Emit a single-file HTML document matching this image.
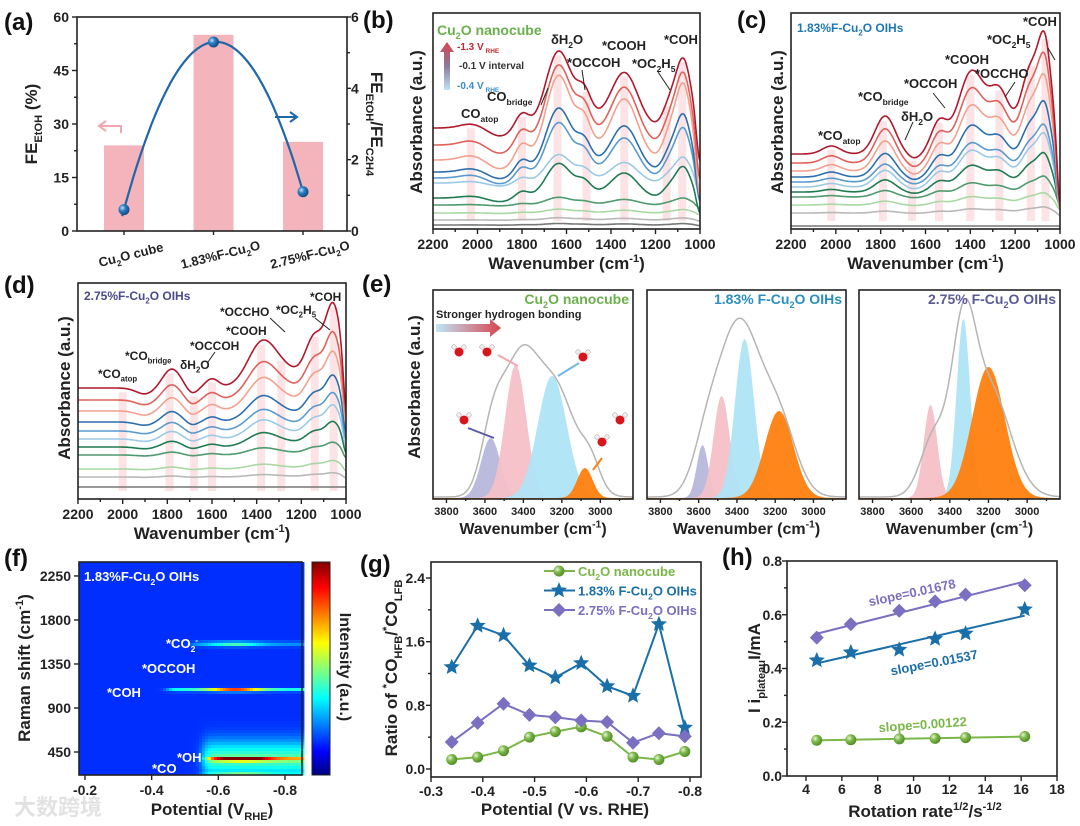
<!DOCTYPE html>
<html><head><meta charset="utf-8"><title>Figure</title>
<style>
html,body{margin:0;padding:0;background:#fff;}
svg{display:block;font-family:"Liberation Sans","Noto Sans CJK SC",sans-serif;font-weight:bold;}
</style></head>
<body>
<svg id="fig" width="1080" height="826" viewBox="0 0 1080 826" xmlns="http://www.w3.org/2000/svg">
<defs>
<linearGradient id="vArrow" x1="0" y1="1" x2="0" y2="0"><stop offset="0" stop-color="#bfe3f7"/><stop offset="0.5" stop-color="#8a7a9a"/><stop offset="1" stop-color="#d9434f"/></linearGradient>
<linearGradient id="hArrow" x1="0" y1="0" x2="1" y2="0"><stop offset="0" stop-color="#bfe6f8"/><stop offset="1" stop-color="#d9434f"/></linearGradient>
<linearGradient id="jetBar" x1="0" y1="1" x2="0" y2="0">
<stop offset="0" stop-color="#00007f"/><stop offset="0.11" stop-color="#0000ff"/><stop offset="0.36" stop-color="#00ffff"/><stop offset="0.62" stop-color="#ffff00"/><stop offset="0.88" stop-color="#ff0000"/><stop offset="1" stop-color="#7f0000"/></linearGradient>
<radialGradient id="ballBlue" cx="0.35" cy="0.35" r="0.7"><stop offset="0" stop-color="#bfe2ff"/><stop offset="0.4" stop-color="#2a7fc4"/><stop offset="1" stop-color="#12477a"/></radialGradient>
<radialGradient id="ballGreen" cx="0.35" cy="0.35" r="0.7"><stop offset="0" stop-color="#e4f5d0"/><stop offset="0.45" stop-color="#7ab648"/><stop offset="1" stop-color="#4f8a25"/></radialGradient>
<clipPath id="clipB"><rect x="433" y="13" width="267" height="216"/></clipPath>
<clipPath id="clipC"><rect x="791" y="13" width="269" height="216"/></clipPath>
<clipPath id="clipD"><rect x="78" y="283" width="268" height="216"/></clipPath>
</defs>
</svg>
<script>
const NS='http://www.w3.org/2000/svg';
const svg=document.getElementById('fig');
function mk(tag,attrs,parent){const e=document.createElementNS(NS,tag);for(const k in attrs)e.setAttribute(k,attrs[k]);(parent||svg).appendChild(e);return e;}
function rich(el,s,fs){const parts=s.split(/(_\{[^}]*\}|\^\{[^}]*\})/);let cur=0;for(const p of parts){if(!p)continue;let t,d=0,small=false;if(p.startsWith('_{')){t=p.slice(2,-1);d=fs*0.3;small=true;}else if(p.startsWith('^{')){t=p.slice(2,-1);d=-fs*0.4;small=true;}else{t=p;}const ts=document.createElementNS(NS,'tspan');ts.setAttribute('dy',(d-cur).toFixed(2));cur=d;if(small)ts.setAttribute('font-size',(fs*0.65).toFixed(1));ts.textContent=t;el.appendChild(ts);}}
function txt(x,y,s,fs,color,anchor,name,rot){const t=mk('text',{x:x,y:y,'font-size':fs,fill:color,'text-anchor':anchor||'start'});if(rot)t.setAttribute('transform','rotate('+rot+' '+x+' '+y+')');rich(t,s,fs);


return t;}
function axisBox(x0,y0,x1,y1,name){const r=mk('rect',{x:x0,y:y0,width:x1-x0,height:y1-y0,fill:'none',stroke:'#222','stroke-width':1.6});

}
function tickLine(x1,y1,x2,y2,name){const l=mk('line',{x1:x1,y1:y1,x2:x2,y2:y2,stroke:'#222','stroke-width':1.4});

}

/* ================= (a) ================= */
const aCats=['Cu_{2}O cube','1.83%F-Cu_{2}O','2.75%F-Cu_{2}O'];
const aFE=[24,55,25];
const aRatio=[0.6,5.3,1.1];
const aLeftTicks=[0,15,30,45,60];
const aRightTicks=[0,2,4,6];
(function(){
 const x0=77,x1=347,y0=17,y1=231;
 const ax=i=>124+i*89.5, yl=v=>y1-v/60*(y1-y0), yr=v=>y1-v/6*(y1-y0);
 aFE.forEach((v,i)=>{const r=mk('rect',{x:ax(i)-20,y:yl(v),width:40,height:y1-yl(v),fill:'#f4b4bc'});
 
 });
 let d='';for(let t=-0.02;t<=2.02;t+=0.02){let v=0;for(let j=0;j<3;j++){let L=1;for(let k=0;k<3;k++)if(k!==j)L*=(t-k)/(j-k);v+=aRatio[j]*L;}d+=(d?'L':'M')+ax(t).toFixed(1)+','+yr(v).toFixed(1);}
 const c=mk('path',{d:d,fill:'none',stroke:'#1f67a8','stroke-width':2.2});
 
 
 aRatio.forEach((v,i)=>{const p=mk('circle',{cx:ax(i),cy:yr(v),r:5.5,fill:'url(#ballBlue)'});
 
 });
 axisBox(x0,y0,x1,y1,'axes-a');
 aLeftTicks.forEach(v=>{tickLine(x0,yl(v),x0-5,yl(v),'a-left-tick');txt(x0-8,yl(v)+5,String(v),14,'#222','end','a-left-tick-label');});
 [7.5,22.5,37.5,52.5].forEach(v=>tickLine(x0,yl(v),x0-3,yl(v),'a-left-minor-tick'));
 aRightTicks.forEach(v=>{tickLine(x1,yr(v),x1+4,yr(v),'a-right-tick');txt(x1+4,yr(v)+5,String(v),14,'#222','start','a-right-tick-label');});
 [1,3,5].forEach(v=>tickLine(x1,yr(v),x1+3,yr(v),'a-right-minor-tick'));
 aCats.forEach((s,i)=>{tickLine(ax(i),y1,ax(i),y1+4,'a-x-tick');txt(ax(i)+8,y1+28,s,13,'#222','middle','a-category-label',-14);});
 txt(37,124,'FE_{EtOH} (%)',17,'#222','middle','a-left-axis-title',-90);
 txt(371,124,'FE_{EtOH}/FE_{C2H4}',17,'#222','middle','a-right-axis-title',90);
 const ar1=mk('path',{d:'M121,133 L121,126 L100,126 M106,121 L99,126 L106,131',fill:'none',stroke:'#f2a6b0','stroke-width':2});
 
 
 const ar2=mk('path',{d:'M275,117 L297,117 M290,112 L297,117 L290,122',fill:'none',stroke:'#1f67a8','stroke-width':2});
 
 
 txt(4,30,'(a)',24,'#111','start','panel-label-a');
})();

/* ============ spectra helper ============ */
function drawSpectra(box,dom,peaks,offs,scales,colors,bands,clip,pfx){
 const X=w=>box.x0+(dom[0]-w)/(dom[0]-dom[1])*(box.x1-box.x0);
 const S=w=>{let s=0;for(const p of peaks)s+=p[1]*Math.exp(-((w-p[0])**2)/(2*p[2]*p[2]));return s;};
 bands.forEach(w=>{const top=box.y1-(offs[0]+scales[0]*S(w))+4;const r=mk('rect',{x:X(w)-4,y:top,width:8,height:box.y1-8-top,fill:'#fbd9dc',opacity:0.75});
 
 });
 for(let i=offs.length-1;i>=0;i--){let d='';for(let w=dom[0];w>=dom[1];w-=4){const v=offs[i]+scales[i]*S(w);d+=(d?'L':'M')+X(w).toFixed(1)+','+(box.y1-v).toFixed(1);}
 const p=mk('path',{d:d,fill:'none',stroke:colors[i],'stroke-width':1.6,'clip-path':'url(#'+clip+')'});
 
 }
 axisBox(box.x0,box.y0,box.x1,box.y1,pfx+'-axes');
 for(let w=dom[0];w>=dom[1];w-=100){const major=(w%200===0);tickLine(X(w),box.y1,X(w),box.y1+(major?5:3),pfx+'-x-tick');if(major)txt(X(w),box.y1+20,String(w),14,'#222','middle',pfx+'-x-tick-label');}
 txt((box.x0+box.x1)/2,box.y1+40,'Wavenumber (cm^{-1})',17,'#222','middle',pfx+'-x-axis-title');
}
const specColors=['#b2182b','#e0605a','#f4a08e','#2c6fae','#5a9acd','#9cc9e6','#1f7a52','#4f9a6e','#a9d8a4','#b8b8b8','#777777'];

/* ================= (b) ================= */
const bPeaks=[[2030,4,50],[1900,-8,50],[1800,15,30],[1640,67,55],[1550,18,80],[1520,20,30],[1340,55,60],[1140,20,30],[1075,68,35],[1000,-40,15]];
const bOffsets=[101,84,69,57,51,46,31,24,16,9,4];
const bScales=[1,1.04,1.1,0.83,0.72,0.37,0.45,0.1,0.05,0.03,0.02];
const bBands=[2030,1800,1640,1510,1340,1150,1080];
drawSpectra({x0:433,x1:700,y0:13,y1:229},[2200,1000],bPeaks,bOffsets,bScales,specColors,bBands,'clipB','b');
/* ================= (c) ================= */
const cPeaks=[[2020,8,40],[1780,38,45],[1650,-5,30],[1540,28,35],[1400,58,55],[1300,35,120],[1270,30,40],[1130,70,40],[1065,95,30],[1000,-60,12]];
const cOffsets=[75,66,58,52,47,42,37,32,24,16,3];
const cScales=[1,0.9,0.79,0.62,0.47,0.44,0.32,0.17,0.1,0.05,0];
const cBands=[2020,1790,1660,1540,1400,1270,1130,1065];
drawSpectra({x0:791,x1:1060,y0:13,y1:229},[2200,1000],cPeaks,cOffsets,cScales,specColors,cBands,'clipC','c');
/* ================= (d) ================= */
const dPeaks=[[1900,-6,40],[1780,19,40],[1690,-6,25],[1600,9,30],[1380,32,60],[1300,21,100],[1140,45,40],[1055,79,35],[1000,-43,12]];
const dOffsets=[111,99,88,77,68,60,52,44,30,22,12];
const dScales=[1,0.8,0.7,0.55,0.45,0.4,0.3,0.15,0.1,0.05,0];
const dBands=[2000,1790,1680,1600,1380,1290,1140,1055];
drawSpectra({x0:78,x1:346,y0:283,y1:499},[2200,1000],dPeaks,dOffsets,dScales,specColors,dBands,'clipD','d');

/* spectra annotations */
txt(422,122,'Absorbance (a.u.)',17,'#222','middle','b-y-axis-title',-90);
txt(783,122,'Absorbance (a.u.)',17,'#222','middle','c-y-axis-title',-90);
txt(70,388,'Absorbance (a.u.)',17,'#222','middle','d-y-axis-title',-90);
txt(363,28,'(b)',24,'#111','start','panel-label-b');
txt(737,28,'(c)',24,'#111','start','panel-label-c');
txt(4,293,'(d)',24,'#111','start','panel-label-d');
txt(437,35,'Cu_{2}O nanocube',14,'#6ab04c','start','b-sample-label');
const va=mk('path',{d:'M444,90 L444,52 L440,52 L447,42 L454,52 L450,52 L450,90 Z',fill:'url(#vArrow)'});


txt(457,50,'-1.3 V_{ RHE}',10,'#c0282f','start','potential-start-label');
txt(459,69,'-0.1 V interval',10,'#333','start','potential-interval-label');
txt(457,89,'-0.4 V_{ RHE}',10,'#3a8cc8','start','potential-end-label');
const bAnn=[[551,44,'δH_{2}O'],[602,50,'*COOH'],[664,44,'*COH'],[567,67,'*OCCOH'],[632,68,'*OC_{2}H_{5}'],[487,101,'CO_{bridge}'],[461,118,'CO_{atop}']];
bAnn.forEach(a=>txt(a[0],a[1],a[2],13,'#222','start','b-peak-annotation'));
txt(797,32,'1.83%F-Cu_{2}O OIHs',12,'#1f78b4','start','c-sample-label');
const cAnn=[[1023,26,'*COH'],[987,44,'*OC_{2}H_{5}'],[945,64,'*COOH'],[975,78,'*OCCHO'],[904,88,'*OCCOH'],[858,101,'*CO_{bridge}'],[901,121,'δH_{2}O'],[818,140,'*CO_{atop}']];
cAnn.forEach(a=>txt(a[0],a[1],a[2],13,'#222','start','c-peak-annotation'));
txt(84,300,'2.75%F-Cu_{2}O OIHs',12,'#4a4a8c','start','d-sample-label');
const dAnn=[[310,301,'*COH'],[220,316,'*OCCHO'],[276,314,'*OC_{2}H_{5}'],[226,335,'*COOH'],[190,350,'*OCCOH'],[125,360,'*CO_{bridge}'],[180,369,'δH_{2}O'],[98,378,'*CO_{atop}']];
dAnn.forEach(a=>txt(a[0],a[1],a[2],12,'#222','start','d-peak-annotation'));
const annArrows=[[582,70,585,90],[658,72,670,90],[541,105,548,88],[1048,48,1055,60],[1015,82,1005,97],[933,93,945,108],[913,122,905,140],[270,318,285,332],[315,318,330,330],[215,352,208,362]];
annArrows.forEach(a=>{const l=mk('line',{x1:a[0],y1:a[1],x2:a[2],y2:a[3],stroke:'#222','stroke-width':1});

});

/* ================= (e) ================= */
const eDomain=[3870,2830];
const eTicks=[3800,3600,3400,3200,3000];
const eTitles=['Cu_{2}O nanocube','1.83% F-Cu_{2}O OIHs','2.75% F-Cu_{2}O OIHs'];
const eTitleColors=['#6ab04c','#2a8fc0','#5a5a99'];
const eCompColors=['#b7b7dc','#f4c0c6','#aee4f6','#ff7f0e'];
const eComp0=[[3570,60,50],[3440,133,55],[3250,122,75],[3080,30,40]];
const eComp1=[[3580,53,30],[3480,102,42],[3360,159,50],[3180,87,75]];
const eComp2=[[3580,0,30],[3500,93,35],[3330,179,35],[3200,131,85]];
const eEnv0=[[3560,60,60],[3420,125,90],[3230,105,105],[3050,25,50]];
const eEnv1=[[3560,40,70],[3390,172,110],[3180,70,90]];
const eEnv2=[[3480,60,70],[3330,135,60],[3200,110,110]];
(function(){
 const boxes=[[433,633],[647,846],[859,1060]], y0=290,y1=499;
 const comps=[eComp0,eComp1,eComp2], envs=[eEnv0,eEnv1,eEnv2];
 boxes.forEach((b,k)=>{
  const X=w=>b[0]+(eDomain[0]-w)/(eDomain[0]-eDomain[1])*(b[1]-b[0]);
  comps[k].forEach((c,j)=>{ if(c[1]<=0)return; let d='M'+X(eDomain[0]).toFixed(1)+','+y1;
   for(let w=eDomain[0];w>=eDomain[1];w-=5){const v=c[1]*Math.exp(-((w-c[0])**2)/(2*c[2]*c[2]));d+='L'+X(w).toFixed(1)+','+(y1-1-v).toFixed(1);}
   d+='L'+X(eDomain[1]).toFixed(1)+','+y1+'Z';
   const p=mk('path',{d:d,fill:eCompColors[j],opacity:0.95});
   
   });
  let d='';for(let w=eDomain[0];w>=eDomain[1];w-=5){let v=0;for(const c of envs[k])v+=c[1]*Math.exp(-((w-c[0])**2)/(2*c[2]*c[2]));d+=(d?'L':'M')+X(w).toFixed(1)+','+(y1-2-v).toFixed(1);}
  const env=mk('path',{d:d,fill:'none',stroke:'#b5b5b5','stroke-width':1.5});
  
  
  axisBox(b[0],y0,b[1],y1,'e-axes-'+k);
  eTicks.forEach(w=>{tickLine(X(w),y1,X(w),y1+4,'e-x-tick');txt(X(w),y1+16,String(w),11,'#222','middle','e-x-tick-label');});
  for(let w=3900;w>=2900;w-=100)if(w<eDomain[0]&&w>eDomain[1]&&w%200!==0)tickLine(X(w),y1,X(w),y1+2,'e-x-minor-tick');
  txt((b[0]+b[1])/2,y1+35,'Wavenumber (cm^{-1})',16,'#222','middle','e-x-axis-title');
  txt(b[1]-4,y0+14,eTitles[k],14,eTitleColors[k],'end','e-sample-label');
 });
})();
txt(420,387,'Absorbance (a.u.)',17,'#222','middle','e-y-axis-title',-90);
txt(362,292,'(e)',24,'#111','start','panel-label-e');
txt(436,318,'Stronger hydrogen bonding',11,'#222','start','hbond-label');
const ha=mk('path',{d:'M436,324 L490,324 L490,319 L501,328 L490,337 L490,332 L436,332 Z',fill:'url(#hArrow)'});


const waters=[[459,352],[487,352],[583,357],[464,420],[620,420],[602,442]];
waters.forEach(w=>{const o=mk('circle',{cx:w[0],cy:w[1],r:4.5,fill:'#d8151b'});


[[-5,-5],[5,-5]].forEach(h=>{const hc=mk('circle',{cx:w[0]+h[0],cy:w[1]+h[1],r:2.3,fill:'#eee',stroke:'#999','stroke-width':0.5});

});});
const wArrows=[[498,355,518,366,'#f4a7b0'],[579,363,558,376,'#6fb8ee'],[468,428,494,438,'#5a5aa8'],[602,458,593,470,'#ff7f0e']];
wArrows.forEach(a=>{const l=mk('line',{x1:a[0],y1:a[1],x2:a[2],y2:a[3],stroke:a[4],'stroke-width':2});

});

/* ================= (f) heatmap ================= */
const fBandShift=[1554,1084,378,205,380];
const fBandWidth=[18,12,14,14,130];
const fBandFrom=[-0.52,-0.45,-0.57,-0.55,-0.555];
const fBandPeakPot=[-0.65,-0.65,-0.67,-0.67,-0.66];
const fBandPeak=[0.28,0.7,0.8,0.88,0.28];
const fBase=0.17;
const fYTicks=[450,900,1350,1800,2250];
const fXTicks=[-0.2,-0.4,-0.6,-0.8];
function jet(v){v=Math.max(0,Math.min(1,v));const c=x=>Math.round(255*Math.max(0,Math.min(1,x)));return 'rgb('+c(1.5-Math.abs(4*v-3))+','+c(1.5-Math.abs(4*v-2))+','+c(1.5-Math.abs(4*v-1))+')';}
(function(){
 const x0=79,x1=302,y0=562,y1=775;
 const fx=p=>85+(-0.2-p)/0.6*200, fy=s=>752-(s-450)*0.0978;
 const pAt=x=>-0.2-(x-85)/200*0.6, sAt=y=>450+(752-y)/0.0978;
 const g=mk('g',{});
 
 
 const cs=3;
 for(let y=y0;y<y1;y+=cs){for(let x=x0;x<x1;x+=cs){const p=pAt(x+cs/2),s=sAt(y+cs/2);let v=fBase;
  for(let i=0;i<fBandShift.length;i++){const on=1/(1+Math.exp((p-fBandFrom[i])/0.008));const prof=i===4?1:0.35+0.65*Math.exp(-((p-fBandPeakPot[i])**2)/(2*0.055*0.055));v+=fBandPeak[i]*on*prof*Math.exp(-((s-fBandShift[i])**2)/(2*fBandWidth[i]*fBandWidth[i]));}
  const r=mk('rect',{x:x,y:y,width:cs+0.4,height:cs+0.4,fill:jet(v)},g);
  
  }}
 axisBox(x0,y0,x1,y1,'f-axes');
 fYTicks.forEach(v=>{tickLine(x0,fy(v),x0-5,fy(v),'f-y-tick');txt(x0-8,fy(v)+5,String(v),14,'#222','end','f-y-tick-label');});
 fXTicks.forEach(v=>{tickLine(fx(v),y1,fx(v),y1+5,'f-x-tick');txt(fx(v),y1+20,v.toFixed(1),14,'#222','middle','f-x-tick-label');});
 const cb=mk('rect',{x:312,y:y0,width:18,height:y1-y0,fill:'url(#jetBar)',stroke:'#222','stroke-width':1});
 
 
})();
txt(30,668,'Raman shift (cm^{-1})',17,'#222','middle','f-y-axis-title',-90);
txt(212,815,'Potential (V_{RHE})',17,'#222','middle','f-x-axis-title');
txt(340,667,'Intensity (a.u.)',16,'#222','middle','colorbar-title',90);
txt(4,566,'(f)',24,'#111','start','panel-label-f');
txt(84,581,'1.83%F-Cu_{2}O OIHs',13,'#fff','start','f-sample-label');
txt(166,648,'*CO_{2}^{-}',13,'#fff','start','f-co2-label');
txt(142,673,'*OCCOH',13,'#fff','start','f-occoh-label');
txt(107,697,'*COH',13,'#fff','start','f-coh-label');
txt(177,762,'*OH',13,'#fff','start','f-oh-label');
txt(152,773,'*CO',13,'#fff','start','f-co-label');
const wm=txt(14,815,'大数跨境',22,'#dcdcdc','start','watermark');
wm.setAttribute('opacity','0.8');

/* ================= (g) ================= */
const gPot=[-0.34,-0.39,-0.44,-0.49,-0.54,-0.59,-0.64,-0.69,-0.74,-0.79];
const gCu2O=[0.12,0.15,0.23,0.40,0.47,0.53,0.41,0.15,0.12,0.22];
const gF183=[1.28,1.80,1.68,1.30,1.15,1.33,1.04,0.92,1.82,0.52];
const gF275=[0.34,0.58,0.82,0.68,0.65,0.61,0.59,0.33,0.45,0.41];
const gYTicks=[0,0.8,1.6,2.4];
const gXTicks=[-0.3,-0.4,-0.5,-0.6,-0.7,-0.8];
const gNames=['Cu_{2}O nanocube','1.83% F-Cu_{2}O OIHs','2.75% F-Cu_{2}O OIHs'];
const gColors=['#7ab648','#1b6fa8','#7a6fc0'];
function starPath(cx,cy,R){let d='';for(let i=0;i<10;i++){const r=i%2?R*0.45:R;const a=-Math.PI/2+i*Math.PI/5;d+=(i?'L':'M')+(cx+r*Math.cos(a)).toFixed(1)+','+(cy+r*Math.sin(a)).toFixed(1);}return d+'Z';}
function marker(kind,cx,cy,color,name){let e;
 if(kind===0)e=mk('circle',{cx:cx,cy:cy,r:5.5,fill:'url(#ballGreen)'});
 else if(kind===1)e=mk('path',{d:starPath(cx,cy,8.5),fill:color});
 else e=mk('path',{d:'M'+cx+','+(cy-7)+'L'+(cx+7)+','+cy+'L'+cx+','+(cy+7)+'L'+(cx-7)+','+cy+'Z',fill:color});
 
 }
(function(){
 const x0=431,x1=701,y0=562,y1=777;
 const gx=v=>431+(-0.3-v)/0.5*259, gy=v=>769-v/2.4*191;
 [gCu2O,gF183,gF275].forEach((ser,k)=>{let d='';ser.forEach((v,i)=>{d+=(i?'L':'M')+gx(gPot[i]).toFixed(1)+','+gy(v).toFixed(1);});
  const l=mk('path',{d:d,fill:'none',stroke:gColors[k],'stroke-width':2});
  
  
  ser.forEach((v,i)=>marker(k,gx(gPot[i]),gy(v),gColors[k],'g-point'));});
 axisBox(x0,y0,x1,y1,'g-axes');
 gYTicks.forEach(v=>{tickLine(x0,gy(v),x0-5,gy(v),'g-y-tick');txt(x0-6,gy(v)+5,v.toFixed(1),14,'#222','end','g-y-tick-label');});
 [0.4,1.2,2.0].forEach(v=>tickLine(x0,gy(v),x0-3,gy(v),'g-y-minor-tick'));
 gXTicks.forEach(v=>{tickLine(gx(v),y1,gx(v),y1+5,'g-x-tick');txt(gx(v),y1+19,v.toFixed(1),14,'#222','middle','g-x-tick-label');});
 gNames.forEach((n,k)=>{const yy=571+k*19.5;const l=mk('line',{x1:544,y1:yy,x2:575,y2:yy,stroke:gColors[k],'stroke-width':2});
  
  
  marker(k,559,yy,gColors[k],'g-legend-marker');
  txt(578,yy+5,n,13,gColors[k],'start','g-legend-entry');});
})();
txt(397,668,'Ratio of ^{*}CO_{HFB}/^{*}CO_{LFB}',17,'#222','middle','g-y-axis-title',-90);
txt(565,815,'Potential (V vs. RHE)',17,'#222','middle','g-x-axis-title');
txt(360,572,'(g)',24,'#111','start','panel-label-g');

/* ================= (h) ================= */
const hRate=[4.6,6.5,9.2,11.2,12.9,16.2];
const hF275=[0.515,0.565,0.615,0.65,0.675,0.71];
const hF183=[0.43,0.46,0.47,0.51,0.53,0.62];
const hCu2O=[0.133,0.135,0.138,0.14,0.143,0.147];
const hYTicks=[0,0.2,0.4,0.6,0.8];
const hXTicks=[4,6,8,10,12,14,16,18];
const hSlopes=['slope=0.00122','slope=0.01537','slope=0.01678'];
(function(){
 const x0=787,x1=1057,y0=561,y1=776;
 const hx=v=>806+(v-4)*17.93, hy=v=>776-v/0.8*215;
 const cols=['#7ab648','#1b6fa8','#7a6fc0'];
 [hCu2O,hF183,hF275].forEach((ser,k)=>{
  const n=ser.length;let sx=0,sy=0,sxx=0,sxy=0;ser.forEach((v,i)=>{sx+=hRate[i];sy+=v;sxx+=hRate[i]*hRate[i];sxy+=hRate[i]*v;});
  const m=(n*sxy-sx*sy)/(n*sxx-sx*sx), b=(sy-m*sx)/n;
  const l=mk('line',{x1:hx(hRate[0]),y1:hy(m*hRate[0]+b),x2:hx(hRate[n-1]),y2:hy(m*hRate[n-1]+b),stroke:cols[k],'stroke-width':2});
  
  
  ser.forEach((v,i)=>marker(k,hx(hRate[i]),hy(v),cols[k],'h-point'));});
 axisBox(x0,y0,x1,y1,'h-axes');
 hYTicks.forEach(v=>{tickLine(x0,hy(v),x0-5,hy(v),'h-y-tick');txt(x0-5,hy(v)+5,v.toFixed(1),14,'#222','end','h-y-tick-label');});
 [0.1,0.3,0.5,0.7].forEach(v=>tickLine(x0,hy(v),x0-3,hy(v),'h-y-minor-tick'));
 hXTicks.forEach(v=>{tickLine(hx(v),y1,hx(v),y1+5,'h-x-tick');txt(hx(v),y1+18,String(v),14,'#222','middle','h-x-tick-label');});
 txt(923,729,hSlopes[0],13,cols[0],'middle','h-slope-label-cu2o',-4);
 txt(935,667,hSlopes[1],13,cols[1],'middle','h-slope-label-183',-11);
 txt(913,597,hSlopes[2],13,cols[2],'middle','h-slope-label-275',-12);
})();
txt(760,668,'I i_{plateau}I/mA',17,'#222','middle','h-y-axis-title',-90);
txt(925,817,'Rotation rate^{1/2}/s^{-1/2}',17,'#222','middle','h-x-axis-title');
txt(722,565,'(h)',24,'#111','start','panel-label-h');
</script>
</body></html>
